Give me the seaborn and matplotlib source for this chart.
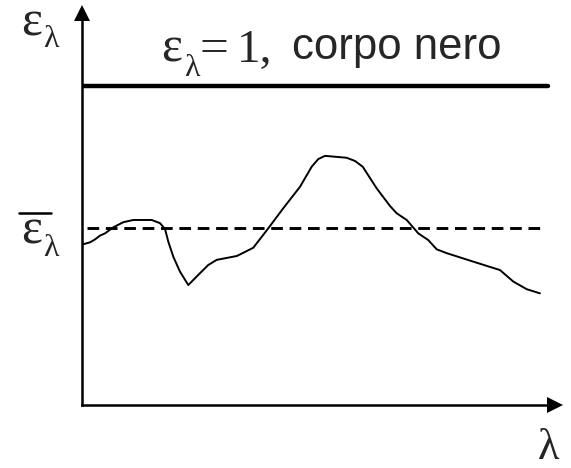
import matplotlib
matplotlib.use("Agg")
import matplotlib.pyplot as plt
import seaborn as sns
import pandas as pd
from matplotlib.lines import Line2D

# ---- data (wavelength in arbitrary units, emissivity with black body = 1) ----
lam = [0.028, 0.172, 0.279, 0.386, 0.494, 0.672, 0.886, 1.101, 1.496, 1.674,
       1.781, 1.852, 1.959, 2.103, 2.281, 2.496, 2.710, 2.891, 3.320, 3.391,
       3.676, 3.998, 4.320, 4.678, 4.929, 5.071, 5.215, 5.680, 5.858, 6.024,
       6.324, 6.609, 6.753, 6.968, 7.217, 7.431, 7.612, 7.826, 8.470, 8.970,
       9.255, 9.543, 9.828]
eps = [0.504, 0.510, 0.519, 0.531, 0.538, 0.557, 0.573, 0.580, 0.580, 0.570,
       0.552, 0.512, 0.465, 0.418, 0.376, 0.408, 0.439, 0.455, 0.467, 0.472,
       0.493, 0.554, 0.617, 0.684, 0.747, 0.771, 0.781, 0.775, 0.765, 0.747,
       0.679, 0.624, 0.601, 0.580, 0.538, 0.517, 0.488, 0.476, 0.446, 0.423,
       0.387, 0.363, 0.350]
blackbody_lam = [0.0, 10.0]
blackbody_eps = [1.0, 1.0]
mean_lam = [0.107, 9.87]
mean_eps = [0.555, 0.555]

df = pd.DataFrame({"lam": lam, "eps": eps})
df_bb = pd.DataFrame({"lam": blackbody_lam, "eps": blackbody_eps})
df_mean = pd.DataFrame({"lam": mean_lam, "eps": mean_eps})

sns.set_style("white")
W, H = 571, 468
fig = plt.figure(figsize=(W / 100, H / 100), dpi=100)
ax = fig.add_axes([82 / W, 1 - 405 / H, 481 / W, 400 / H])

XMAX = 481 / 46.6
YMAX = 400 / 319.0

sns.lineplot(data=df, x="lam", y="eps", sort=False, color="black", lw=1.4, ax=ax)
sns.lineplot(data=df_bb, x="lam", y="eps", sort=False, color="black", lw=3.2, ax=ax)
sns.lineplot(data=df_mean, x="lam", y="eps", sort=False, color="black", lw=2.1,
             ax=ax)
ax.lines[-1].set_dashes((4.0, 2.3))

ax.set_xlim(0, XMAX)
ax.set_ylim(0, YMAX)
ax.set_xticks([])
ax.set_yticks([])
ax.set_xlabel("")
ax.set_ylabel("")
for s in ["top", "right"]:
    ax.spines[s].set_visible(False)
for s in ["left", "bottom"]:
    ax.spines[s].set_color("black")
    ax.spines[s].set_linewidth(1.8)
ax.spines["bottom"].set_bounds(0, XMAX - 10 / 46.6)
ax.spines["left"].set_bounds(0, YMAX - 10 / 319)
ax.set_facecolor("white")

# arrow heads
ms = 11.5
ax.plot([XMAX - 8 / 46.6], [0], marker=">", color="black", ms=ms, clip_on=False,
        mew=0)
ax.plot([0], [YMAX - 7.5 / 319], marker="^", color="black", ms=ms, clip_on=False,
        mew=0)


def ftext(x, y, s, **kw):
    kw.setdefault("ha", "left")
    fig.text(x / W, 1 - y / H, s, va="baseline", **kw)


serif = ["Liberation Serif", "DejaVu Serif"]
sans = ["Liberation Sans", "DejaVu Sans"]

# y-axis label
ftext(21, 35, "ε", family=serif, fontsize=36)
ftext(43, 47, "λ", family=serif, fontsize=23)
# mean emissivity label
ftext(21, 243, "ε", family=serif, fontsize=36)
ftext(43, 256, "λ", family=serif, fontsize=23)
fig.add_artist(Line2D([19 / W, 51 / W], [1 - 213 / H, 1 - 213 / H],
                      color="black", lw=1.8))
# black body label
ftext(161, 62, "ε", family=serif, fontsize=36)
ftext(184, 76, "λ", family=serif, fontsize=23)
ftext(199, 62, "=", family=serif, fontsize=37)
ftext(237, 62, "1,", family=serif, fontsize=34)
ftext(292, 59, "corpo nero", family=sans, fontsize=31.5)
# x-axis label
ftext(549, 459, "λ", family=serif, fontsize=32, ha="center")

fig.savefig("out.png", dpi=100, facecolor="white")
